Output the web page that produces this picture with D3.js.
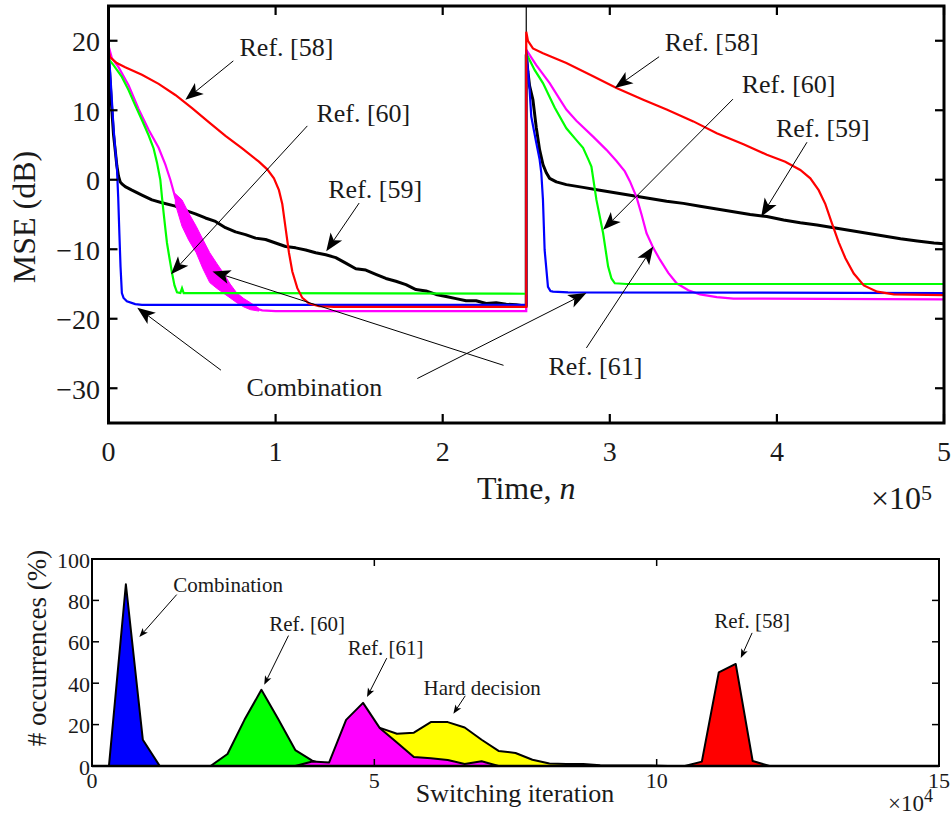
<!DOCTYPE html>
<html><head><meta charset="utf-8">
<script src="https://cdn.jsdelivr.net/npm/d3@7"></script>
<style>body{margin:0;background:#fff}svg{display:block}text{font-family:"Liberation Serif","DejaVu Serif",serif;fill:#1a1a1a}</style>
</head><body>
<script>
// ---------------- DATA ----------------
// Top chart: MSE (dB) vs time (x in units of 1e5 samples)
const timeTicks = [0, 1, 2, 3, 4, 5];
const mseTicks = [-30, -20, -10, 0, 10, 20];
const changePoint = 2.5;

const ref58 = [[0,18.6],[0.01,17.6],[0.05,16.8],[0.1,16.2],[0.2,15.1],[0.3,13.8],[0.4,12.2],[0.5,10.3],[0.6,8.3],[0.7,6.3],[0.8,4.5],[0.9,2.6],[0.95,1.5],[0.99,0.2],[1.02,-1.5],[1.04,-3.5],[1.06,-7],[1.08,-10.5],[1.1,-13.2],[1.13,-15.6],[1.16,-17.0],[1.2,-17.8],[1.26,-18.2],[1.35,-18.3],[2.5,-18.3],
  [2.5,21.3],[2.51,20.0],[2.54,18.9],[2.6,18.2],[2.74,16.8],[2.9,14.9],[3.04,13.2],[3.2,11.5],[3.34,10.1],[3.5,8.4],[3.64,6.7],[3.8,5.1],[3.94,3.6],[4.05,2.6],[4.14,1.4],[4.2,0.2],[4.25,-1.5],[4.29,-3.5],[4.33,-6.3],[4.37,-9.0],[4.41,-11.3],[4.46,-13.5],[4.52,-15.2],[4.6,-16.1],[4.7,-16.5],[5,-16.6]];

const ref59 = [[0,18],[0.01,14],[0.02,10],[0.03,6.5],[0.04,4.3],[0.05,2.0],[0.06,0.5],[0.07,-0.3],[0.08,-0.6],[0.1,-1.0],[0.14,-1.5],[0.2,-2.2],[0.26,-2.9],[0.32,-3.3],[0.4,-3.8],[0.46,-4.4],[0.52,-4.9],[0.58,-5.5],[0.64,-6.0],[0.7,-6.9],[0.76,-7.5],[0.82,-7.9],[0.88,-8.4],[0.94,-8.6],[1.0,-9.1],[1.06,-9.6],[1.12,-9.8],[1.18,-10.1],[1.24,-10.5],[1.3,-10.8],[1.36,-11.2],[1.42,-12.0],[1.48,-12.8],[1.54,-13.0],[1.6,-13.6],[1.66,-14.2],[1.72,-14.6],[1.78,-15.1],[1.84,-15.8],[1.9,-16.0],[1.96,-16.5],[2.02,-16.8],[2.08,-17.1],[2.14,-17.4],[2.2,-17.4],[2.26,-17.8],[2.32,-17.7],[2.38,-17.9],[2.44,-18.0],[2.5,-18.2],
  [2.5,18],[2.51,15.5],[2.52,13.5],[2.54,11.5],[2.56,7.5],[2.58,4.3],[2.6,2.2],[2.62,1.0],[2.64,0.2],[2.68,-0.3],[2.74,-0.7],[2.84,-1.1],[2.94,-1.5],[3.04,-1.9],[3.14,-2.3],[3.24,-2.7],[3.34,-3.1],[3.44,-3.4],[3.54,-3.8],[3.64,-4.2],[3.74,-4.6],[3.84,-5.0],[3.94,-5.3],[4.04,-5.8],[4.14,-6.2],[4.24,-6.5],[4.34,-6.9],[4.44,-7.3],[4.54,-7.7],[4.64,-8.1],[4.74,-8.5],[4.84,-8.8],[4.94,-9.1],[5.0,-9.2]];

const ref60 = [[0,17.4],[0.03,16.5],[0.08,14.8],[0.12,12.9],[0.16,10.7],[0.2,8.6],[0.24,6.4],[0.27,4.5],[0.29,2.5],[0.31,0],[0.32,-2.5],[0.33,-4.8],[0.34,-7.0],[0.35,-9.1],[0.365,-11.3],[0.38,-13.4],[0.395,-15.2],[0.41,-16.2],[0.43,-16.3],[0.44,-15.6],[0.45,-16.3],[2.5,-16.4],
  [2.5,18.2],[2.55,15.8],[2.6,13.9],[2.67,10.4],[2.74,7.4],[2.8,5.7],[2.84,4.6],[2.87,3.0],[2.89,1.9],[2.92,-2.9],[2.96,-7.7],[2.99,-12.5],[3.01,-14.2],[3.03,-14.9],[3.1,-15.0],[5,-15.0]];

const ref61 = [[0,-36],[0.001,19.2],[0.02,17.5],[0.06,16.2],[0.12,13.6],[0.18,10.2],[0.24,7.2],[0.3,4.6],[0.34,2.2],[0.37,0],[0.4,-2.6],[0.44,-4.8],[0.5,-8.2],[0.56,-10.8],[0.62,-13],[0.68,-14.8],[0.74,-16.5],[0.8,-17.7],[0.86,-18.4],[0.92,-18.8],[1.0,-18.9],[2.5,-18.9],
  [2.5,18.7],[2.56,16.5],[2.64,13.9],[2.7,11.6],[2.74,10.1],[2.8,8.5],[2.9,6.2],[2.98,4.3],[3.04,2.7],[3.09,1.2],[3.12,-0.2],[3.16,-2.5],[3.19,-5.0],[3.22,-7.7],[3.26,-9.8],[3.3,-11.5],[3.35,-13.4],[3.4,-14.9],[3.47,-15.9],[3.54,-16.5],[3.64,-16.9],[3.74,-17.1],[5,-17.2]];
// noisy band of Ref. [61] during its first transient: [x, upper, lower]
const ref61Band = [[0.40,-2.0,-3.5],[0.44,-2.9,-6.7],[0.48,-4.8,-8.7],[0.525,-6.7,-10.5],[0.565,-8.6,-12.8],[0.606,-10.5,-14.8],[0.647,-12.0,-15.6],[0.687,-13.4,-16.3],[0.728,-15.0,-17.0],[0.768,-16.3,-17.7],[0.81,-17.1,-18.3],[0.85,-17.7,-18.7],[0.9,-18.5,-18.9]];

const combination = [[0,18],[0.01,15.5],[0.02,11.5],[0.03,7.5],[0.04,4.5],[0.05,1.9],[0.058,-2.5],[0.065,-7.7],[0.072,-12.5],[0.08,-16.3],[0.09,-17.0],[0.11,-17.5],[0.16,-17.9],[0.2,-18.0],[2.5,-18.0],
  [2.5,18.7],[2.52,13],[2.53,9.1],[2.56,5.3],[2.58,2.9],[2.59,1.0],[2.6,-2.9],[2.61,-10.1],[2.63,-15.4],[2.645,-16.0],[2.66,-16.1],[2.75,-16.2],[5,-16.3]];

// annotations, top chart (data units)
const topLabels = [["Ref. [58]",1.065,19.1],["Ref. [60]",1.525,9.6],["Ref. [59]",1.596,-1.4],["Combination",1.232,-29.9],
  ["Ref. [58]",3.61,19.7],["Ref. [60]",4.07,13.7],["Ref. [59]",4.275,7.4],["Ref. [61]",2.914,-26.8]];
const topArrows = [[[0.747,17.1],[0.46,11.5]],[[1.19,7.75],[0.374,-13.6]],[[1.5,-3.35],[1.303,-10.3]],[[2.364,-26.7],[0.622,-13.2]],
  [[0.673,-27.4],[0.172,-18.4]],[[1.848,-28.6],[2.86,-16.3]],[[3.295,17.7],[3.03,13.2]],[[3.737,11.6],[2.96,-7.2]],
  [[4.18,5.4],[3.906,-5.3]],[[2.86,-24.2],[3.26,-9.6]]];

// Bottom chart: % occurrences vs switching iteration (x in units of 1e4)
const iterTicks = [0, 5, 10, 15];
const occTicks = [0, 20, 40, 60, 80, 100];
const histCombination = [[0.3,0],[0.6,87.8],[0.9,12.7],[1.2,0]];
const histRef60 = [[2.1,0],[2.4,5.8],[2.7,22.3],[3.0,36.8],[3.3,22.6],[3.6,7.7],[3.9,2.6],[4.2,0]];
const histHard = [[4.2,0],[4.5,12],[4.8,18],[5.1,18.4],[5.4,15.6],[5.7,16.1],[6.0,21.2],[6.3,21.2],[6.6,18.6],[6.9,12.7],[7.2,7.3],[7.5,6.3],[7.8,3.0],[8.1,1.2],[8.4,1.0],[8.7,1.0],[9.0,0.4],[9.3,0.3],[9.6,0.2],[9.9,0.2],[10.2,0]];
const histRef61 = [[3.6,0],[3.9,2.2],[4.2,1.7],[4.5,22.3],[4.8,30.5],[5.1,18.2],[5.4,11.3],[5.7,4.4],[6.0,3.7],[6.3,2.9],[6.6,1.0],[6.9,2.3],[7.2,0]];
const histRef58 = [[10.5,0],[10.8,2.1],[11.1,45.2],[11.4,49.3],[11.7,2.4],[12.0,0]];
const bottomNotes = [["Combination",2.41,87.3,[1.5,82.8],[0.838,62.3]],["Ref. [60]",3.81,68.6,[3.48,63],[3.05,39.2]],
  ["Ref. [61]",5.2,57,[5.22,52.1],[4.87,33.3]],["Hard decision",6.91,37.9,[6.61,33.9],[6.4,25.2]],["Ref. [58]",11.69,69.9,[11.69,64.3],[11.49,52.2]]];

// ---------------- DRAW ----------------
const W = 952, H = 815;
const svg = d3.select("body").append("svg").attr("width", W).attr("height", H);

function arrow(g, p1, p2, L, Wd, lw) {
  const dx = p2[0]-p1[0], dy = p2[1]-p1[1], len = Math.hypot(dx, dy);
  const ux = dx/len, uy = dy/len, nx = -uy, ny = ux;
  const bx = p2[0]-L*ux, by = p2[1]-L*uy;
  const mx = p2[0]-0.75*L*ux, my = p2[1]-0.75*L*uy;
  g.append("line").attr("x1", p1[0]).attr("y1", p1[1]).attr("x2", mx).attr("y2", my)
    .attr("stroke", "#000").attr("stroke-width", lw);
  g.append("path").attr("d", `M${p2[0]},${p2[1]}L${bx+Wd*nx},${by+Wd*ny}L${mx},${my}L${bx-Wd*nx},${by-Wd*ny}Z`)
    .attr("fill", "#000");
}

// ---- Top chart ----
const T = {l:108.5, r:944, t:6, b:423};
const x1 = d3.scaleLinear().domain([0,5]).range([T.l, T.r]);
const y1 = d3.scaleLinear().domain([-35,25]).range([T.b, T.t]);
const gT = svg.append("g");
gT.append("clipPath").attr("id","clipT").append("rect").attr("x",T.l).attr("y",T.t).attr("width",T.r-T.l).attr("height",T.b-T.t);
const plotT = gT.append("g").attr("clip-path","url(#clipT)");

plotT.append("line").attr("x1", x1(changePoint)).attr("x2", x1(changePoint)).attr("y1", y1(25)).attr("y2", y1(-18.9))
  .attr("stroke","#000").attr("stroke-width",1.2);

const line1 = d3.line().x(d=>x1(d[0])).y(d=>y1(d[1]));
plotT.append("path").datum(ref59).attr("d", line1).attr("fill","none").attr("stroke","#000").attr("stroke-width",3).attr("stroke-linejoin","round");
plotT.append("path").datum(ref61Band).attr("d", d3.area().x(d=>x1(d[0])).y0(d=>y1(d[2])).y1(d=>y1(d[1])))
  .attr("fill","#ff00ff").attr("stroke","#ff00ff").attr("stroke-width",1);
plotT.append("path").datum(ref61).attr("d", line1).attr("fill","none").attr("stroke","#ff00ff").attr("stroke-width",2.2);
plotT.append("path").datum(ref60).attr("d", line1).attr("fill","none").attr("stroke","#00ff00").attr("stroke-width",2.2);
plotT.append("path").datum(combination).attr("d", line1).attr("fill","none").attr("stroke","#0000ff").attr("stroke-width",2.2);
plotT.append("path").datum(ref58).attr("d", line1).attr("fill","none").attr("stroke","#ff0000").attr("stroke-width",2.2);

// frame & ticks
gT.append("rect").attr("x",T.l).attr("y",T.t).attr("width",T.r-T.l).attr("height",T.b-T.t).attr("fill","none").attr("stroke","#000").attr("stroke-width",3);
const tickL = 9;
timeTicks.forEach(v => {
  gT.append("line").attr("x1",x1(v)).attr("x2",x1(v)).attr("y1",T.b).attr("y2",T.b-tickL).attr("stroke","#000").attr("stroke-width",2.2);
  gT.append("line").attr("x1",x1(v)).attr("x2",x1(v)).attr("y1",T.t).attr("y2",T.t+tickL).attr("stroke","#000").attr("stroke-width",2.2);
  gT.append("text").attr("x",x1(v)).attr("y",451).attr("text-anchor","middle").attr("dominant-baseline","central")
    .style("font-size","28px").text(v);
});
mseTicks.forEach(v => {
  gT.append("line").attr("x1",T.l).attr("x2",T.l+tickL).attr("y1",y1(v)).attr("y2",y1(v)).attr("stroke","#000").attr("stroke-width",2.2);
  gT.append("line").attr("x1",T.r).attr("x2",T.r-tickL).attr("y1",y1(v)).attr("y2",y1(v)).attr("stroke","#000").attr("stroke-width",2.2);
  gT.append("text").attr("x",100).attr("y",y1(v)+1).attr("text-anchor","end").attr("dominant-baseline","central")
    .style("font-size","28px").text(v < 0 ? "\u2212" + Math.abs(v) : v);
});
gT.append("text").attr("transform","translate(24,217) rotate(-90)").attr("text-anchor","middle").attr("dominant-baseline","central")
  .style("font-size","32px").text("MSE (dB)");
const tl = gT.append("text").attr("x",(T.l+T.r)/2).attr("y",499).attr("text-anchor","middle").style("font-size","32px");
tl.append("tspan").text("Time, ");
tl.append("tspan").style("font-style","italic").text("n");
const e5 = gT.append("text").attr("x",871).attr("y",509).style("font-size","32px");
e5.append("tspan").text("\u00d710");
e5.append("tspan").attr("dy",-9).style("font-size","22px").text("5");

// annotations
topLabels.forEach(d => {
  gT.append("text").attr("x",x1(d[1])).attr("y",y1(d[2])).attr("text-anchor","middle").attr("dominant-baseline","central")
    .style("font-size","26px").text(d[0]);
});
topArrows.forEach(a => arrow(gT, [x1(a[0][0]),y1(a[0][1])], [x1(a[1][0]),y1(a[1][1])], 18, 7, 1));

// ---- Bottom chart ----
const B = {l:92, r:939, t:559, b:766};
const x2 = d3.scaleLinear().domain([0,15]).range([B.l, B.r]);
const y2 = d3.scaleLinear().domain([0,100]).range([B.b, B.t]);
const gB = svg.append("g");
const area2 = d3.area().x(d=>x2(d[0])).y0(y2(0)).y1(d=>y2(d[1]));
[[histCombination,"#0000ff"],[histRef60,"#00ff00"],[histHard,"#ffff00"],[histRef61,"#ff00ff"],[histRef58,"#ff0000"]].forEach(s => {
  gB.append("path").datum(s[0]).attr("d", area2).attr("fill", s[1]).attr("stroke","#000").attr("stroke-width",2).attr("stroke-linejoin","round");
});
gB.append("rect").attr("x",B.l).attr("y",B.t).attr("width",B.r-B.l).attr("height",B.b-B.t).attr("fill","none").attr("stroke","#000").attr("stroke-width",2);
gB.append("line").attr("x1",B.l).attr("x2",B.r).attr("y1",B.b).attr("y2",B.b).attr("stroke","#000").attr("stroke-width",2.5);
const tickB = 7;
iterTicks.forEach(v => {
  gB.append("line").attr("x1",x2(v)).attr("x2",x2(v)).attr("y1",B.b).attr("y2",B.b-tickB).attr("stroke","#000").attr("stroke-width",1.5);
  gB.append("line").attr("x1",x2(v)).attr("x2",x2(v)).attr("y1",B.t).attr("y2",B.t+tickB).attr("stroke","#000").attr("stroke-width",1.5);
  gB.append("text").attr("x",x2(v)).attr("y",780).attr("text-anchor","middle").attr("dominant-baseline","central")
    .style("font-size","22px").text(v);
});
occTicks.forEach(v => {
  gB.append("line").attr("x1",B.l).attr("x2",B.l+tickB).attr("y1",y2(v)).attr("y2",y2(v)).attr("stroke","#000").attr("stroke-width",1.5);
  gB.append("line").attr("x1",B.r).attr("x2",B.r-tickB).attr("y1",y2(v)).attr("y2",y2(v)).attr("stroke","#000").attr("stroke-width",1.5);
  gB.append("text").attr("x",90).attr("y",y2(v)+1).attr("text-anchor","end").attr("dominant-baseline","central")
    .style("font-size","22px").text(v);
});
gB.append("text").attr("transform","translate(37,648) rotate(-90)").attr("text-anchor","middle").attr("dominant-baseline","central")
  .style("font-size","27px").text("# occurrences (%)");
gB.append("text").attr("x",515).attr("y",793).attr("text-anchor","middle").attr("dominant-baseline","central")
  .style("font-size","26px").text("Switching iteration");
const e4 = gB.append("text").attr("x",888).attr("y",811).style("font-size","23px");
e4.append("tspan").text("\u00d710");
e4.append("tspan").attr("dy",-9).style("font-size","18px").text("4");
bottomNotes.forEach(d => {
  gB.append("text").attr("x",x2(d[1])).attr("y",y2(d[2])).attr("text-anchor","middle").attr("dominant-baseline","central")
    .style("font-size","21px").text(d[0]);
  arrow(gB, [x2(d[3][0]),y2(d[3][1])], [x2(d[4][0]),y2(d[4][1])], 9, 3.5, 1);
});
</script>
</body></html>
